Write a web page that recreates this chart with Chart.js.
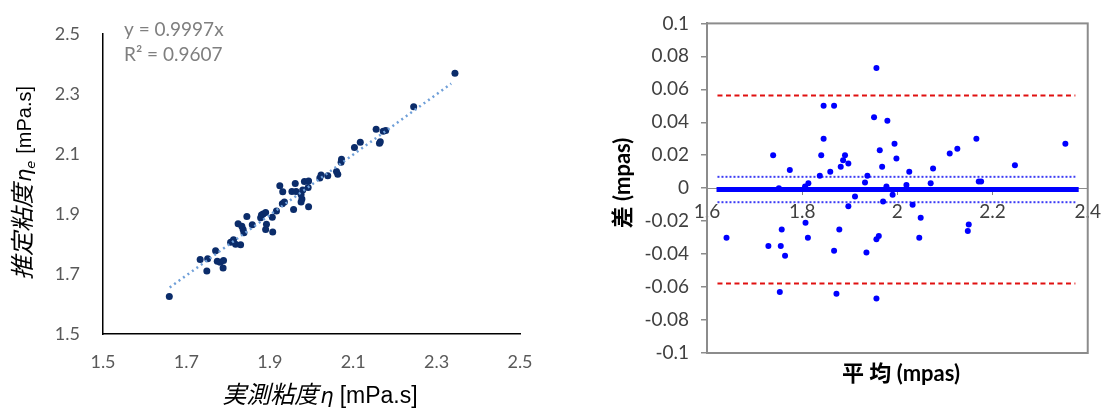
<!DOCTYPE html>
<html lang="ja">
<head>
<meta charset="UTF-8">
<title>粘度 比較</title>
<style>
    body, html {
        margin: 0;
        padding: 0;
        background: #fff;
        overflow: hidden;
    }
    #leftChart { position: absolute; left: 0; top: 0; }
    #rightChart { position: absolute; left: 560px; top: 0; }
</style>
</head>
<body>

<canvas id="leftChart" width="560" height="410"></canvas>
<canvas id="rightChart" width="547" height="410"></canvas>

<script src="https://cdn.jsdelivr.net/npm/chart.js"></script>
<script>
    // left: measured vs estimated viscosity
    const measuredVisc = [1.659, 1.733, 1.749, 1.751, 1.770, 1.774, 1.781, 1.788, 1.789, 1.806,
        1.813, 1.818, 1.830, 1.838, 1.836, 1.833, 1.824, 1.858, 1.845, 1.890,
        1.907, 1.892, 1.878, 1.880, 1.884, 1.890, 1.906, 1.916, 1.930, 1.957,
        1.935, 1.931, 1.924, 1.975, 1.993, 1.977, 1.953, 1.963, 1.975, 1.979,
        1.961, 1.992, 1.983, 1.993, 2.020, 2.023, 2.039, 2.063, 2.060, 2.071,
        2.072, 2.103, 2.117, 2.163, 2.165, 2.155, 2.172, 2.178, 2.245, 2.344];
    const estimatedVisc = [1.625, 1.748, 1.710, 1.751, 1.777, 1.742, 1.739, 1.720, 1.745, 1.806,
        1.814, 1.799, 1.797, 1.837, 1.848, 1.859, 1.867, 1.864, 1.891, 1.848,
        1.840, 1.866, 1.887, 1.896, 1.900, 1.905, 1.889, 1.910, 1.934, 1.915,
        1.940, 1.974, 1.994, 1.940, 1.924, 1.950, 1.975, 1.975, 1.965, 1.980,
        2.001, 1.988, 2.008, 2.010, 2.020, 2.030, 2.027, 2.032, 2.041, 2.072,
        2.082, 2.121, 2.139, 2.135, 2.140, 2.182, 2.175, 2.178, 2.257, 2.369];
    const trendX = [1.66, 2.335];
    const trendY = [1.655, 2.334];
    const leftTicks = [1.5, 1.7, 1.9, 2.1, 2.3, 2.5];
    const leftTickLabels = ['1.5', '1.7', '1.9', '2.1', '2.3', '2.5'];
    const eqLines = ['y = 0.9997x', 'R² = 0.9607'];

    // right: Bland-Altman
    const baMean = [1.641, 1.729, 1.739, 1.751, 1.753, 1.755, 1.757, 1.764, 1.774, 1.806,
        1.807, 1.812, 1.813, 1.837, 1.840, 1.845, 1.845, 1.859, 1.867, 1.867,
        1.872, 1.878, 1.881, 1.886, 1.890, 1.897, 1.897, 1.911, 1.932, 1.935,
        1.937, 1.951, 1.956, 1.956, 1.956, 1.961, 1.963, 1.968, 1.970, 1.977,
        1.979, 1.990, 1.994, 1.998, 2.019, 2.025, 2.032, 2.046, 2.049, 2.070,
        2.075, 2.110, 2.126, 2.148, 2.150, 2.166, 2.171, 2.176, 2.247, 2.353];
    const baDiff = [-0.030, -0.035, 0.020, 0.000, -0.063, -0.035, -0.025, -0.041, 0.011, 0.001,
        -0.021, -0.030, 0.003, 0.0075, 0.020, 0.030, 0.050, 0.010, 0.050, -0.038,
        -0.064, -0.025, 0.013, 0.017, 0.020, 0.015, -0.011, -0.005, 0.0035, -0.039,
        0.0075, 0.043, 0.073, -0.031, -0.067, -0.029, 0.023, 0.013, -0.008, 0.001,
        0.041, -0.004, 0.027, 0.018, 0.002, 0.010, -0.010, -0.030, -0.018, 0.003,
        0.012, 0.021, 0.024, -0.026, -0.022, 0.030, 0.004, 0.004, 0.014, 0.027];
    const meanDiff = -0.0008;
    const loaUpper = 0.0562;
    const loaLower = -0.0578;
    const ciUpper = 0.0069;
    const ciLower = -0.0085;
    const refLineX = [1.622, 2.374];
    const meanLineX = [1.62, 2.381];
    const rightXTicks = [1.6, 1.8, 2, 2.2, 2.4];
    const rightXLabels = ['1.6', '1.8', '2', '2.2', '2.4'];
    const rightYTicks = [-0.1, -0.08, -0.06, -0.04, -0.02, 0, 0.02, 0.04, 0.06, 0.08, 0.1];
    const rightYLabels = ['-0.1', '-0.08', '-0.06', '-0.04', '-0.02', '0', '0.02', '0.04', '0.06', '0.08', '0.1'];

    Chart.defaults.font.family = 'Lato, "Noto Sans CJK JP", sans-serif';
    Chart.defaults.animation = false;

    function pairs(xs, ys) {
        return xs.map((x, i) => ({ x: x, y: ys[i] }));
    }

    function hLine(xs, y) {
        return xs.map(x => ({ x: x, y: y }));
    }

    // draws text pieces with different fonts one after another, centred on (cx, baseline)
    function drawSegments(ctx, segs, cx, cy, rotate) {
        ctx.save();
        ctx.translate(cx, cy);
        if (rotate) ctx.rotate(-Math.PI / 2);
        ctx.textBaseline = 'alphabetic';
        ctx.textAlign = 'left';
        let total = 0;
        segs.forEach(s => {
            ctx.font = s.font;
            s.w = ctx.measureText(s.text).width;
            total += s.w + (s.gap || 0);
        });
        let x = -total / 2;
        segs.forEach(s => {
            ctx.font = s.font;
            ctx.fillStyle = s.color || '#000';
            ctx.fillText(s.text, x, s.dy || 0);
            x += s.w + (s.gap || 0);
        });
        ctx.restore();
    }

    const leftTitles = {
        id: 'leftTitles',
        afterDraw(chart) {
            const ctx = chart.ctx;
            drawSegments(ctx, [
                { text: '推定粘度', font: 'italic 24px "Noto Sans CJK JP"', gap: 2 },
                { text: 'η', font: 'italic 21px "DejaVu Sans"' },
                { text: 'e', font: 'italic 13px "DejaVu Sans"', dy: 4, gap: 7 },
                { text: '[mPa.s]', font: '20px "Liberation Sans"' }
            ], 31, 183, true);
            drawSegments(ctx, [
                { text: '実測粘度', font: 'italic 24px "Noto Sans CJK JP"', gap: 2 },
                { text: 'η', font: 'italic 21px "DejaVu Sans"', gap: 6 },
                { text: '[mPa.s]', font: '23px "Liberation Sans"' }
            ], 320, 403, false);

            ctx.save();
            ctx.font = '19px Lato';
            ctx.fillStyle = '#7f7f7f';
            ctx.textBaseline = 'alphabetic';
            ctx.fillText(eqLines[0], 124, 36);
            ctx.fillText(eqLines[1], 124, 61);
            ctx.restore();
        }
    };

    new Chart(document.getElementById('leftChart'), {
        type: 'scatter',
        data: {
            datasets: [
                {
                    label: 'trend',
                    data: pairs(trendX, trendY),
                    showLine: true,
                    borderColor: '#6f9fd8',
                    borderWidth: 2.5,
                    borderDash: [2, 3.5],
                    pointRadius: 0
                },
                {
                    label: 'data',
                    data: pairs(measuredVisc, estimatedVisc),
                    backgroundColor: '#0b2c6a',
                    borderWidth: 0,
                    pointRadius: 3.5
                }
            ]
        },
        options: {
            responsive: false,
            devicePixelRatio: 1,
            layout: { padding: { left: 0, top: 27, right: 40, bottom: 0 } },
            plugins: { legend: { display: false }, tooltip: { enabled: false } },
            scales: {
                x: {
                    type: 'linear',
                    min: 1.5,
                    max: 2.5,
                    afterBuildTicks: s => { s.ticks = leftTicks.map(v => ({ value: v })); },
                    afterFit: s => { s.height = 76; },
                    grid: { display: false, drawTicks: false },
                    border: { display: true, color: '#000', width: 1.5 },
                    ticks: {
                        callback: (v, i) => leftTickLabels[i],
                        font: { size: 18 },
                        color: '#595959',
                        padding: 17,
                        maxRotation: 0
                    }
                },
                y: {
                    type: 'linear',
                    min: 1.5,
                    max: 2.5,
                    afterBuildTicks: s => { s.ticks = leftTicks.map(v => ({ value: v })); },
                    afterFit: s => { s.width = 103; },
                    grid: { display: false, drawTicks: false },
                    border: { display: true, color: '#000', width: 1.5 },
                    ticks: {
                        callback: (v, i) => leftTickLabels[i],
                        font: { size: 18 },
                        color: '#595959',
                        padding: 23
                    }
                }
            }
        },
        plugins: [leftTitles]
    });

    const rightDecor = {
        id: 'rightDecor',
        beforeDatasetsDraw(chart) {
            const { ctx, chartArea } = chart;
            ctx.save();
            ctx.strokeStyle = '#8c8c8c';
            ctx.lineWidth = 2;
            ctx.strokeRect(chartArea.left, chartArea.top, chartArea.right - chartArea.left, chartArea.bottom - chartArea.top);
            ctx.restore();
        },
        afterDraw(chart) {
            const ctx = chart.ctx;
            // canvas starts at x = 560 on the page
            drawSegments(ctx, [
                { text: '差 (mpas)', font: 'bold 22px Lato, "Noto Sans CJK JP"' }
            ], 70, 183, true);
            drawSegments(ctx, [
                { text: '平 均 (mpas)', font: 'bold 22px Lato, "Noto Sans CJK JP"' }
            ], 341, 381, false);
        }
    };

    new Chart(document.getElementById('rightChart'), {
        type: 'scatter',
        data: {
            datasets: [
                {
                    label: 'diff',
                    data: pairs(baMean, baDiff),
                    backgroundColor: '#0000ff',
                    borderWidth: 0,
                    pointRadius: 3
                },
                {
                    label: 'mean',
                    data: hLine(meanLineX, meanDiff),
                    showLine: true,
                    borderColor: '#0000ff',
                    borderWidth: 5,
                    pointRadius: 0
                },
                {
                    label: 'ci upper',
                    data: hLine(refLineX, ciUpper),
                    showLine: true,
                    borderColor: '#3b3bf5',
                    borderWidth: 2,
                    borderDash: [2, 2],
                    pointRadius: 0
                },
                {
                    label: 'ci lower',
                    data: hLine(refLineX, ciLower),
                    showLine: true,
                    borderColor: '#3b3bf5',
                    borderWidth: 2,
                    borderDash: [2, 2],
                    pointRadius: 0
                },
                {
                    label: 'loa upper',
                    data: hLine(refLineX, loaUpper),
                    showLine: true,
                    borderColor: '#e01010',
                    borderWidth: 2,
                    borderDash: [5, 3.5],
                    pointRadius: 0
                },
                {
                    label: 'loa lower',
                    data: hLine(refLineX, loaLower),
                    showLine: true,
                    borderColor: '#e01010',
                    borderWidth: 2,
                    borderDash: [5, 3.5],
                    pointRadius: 0
                }
            ]
        },
        options: {
            responsive: false,
            devicePixelRatio: 1,
            layout: { padding: { left: 0, top: 15, right: 19, bottom: 57 } },
            plugins: { legend: { display: false }, tooltip: { enabled: false } },
            scales: {
                x: {
                    type: 'linear',
                    position: { y: 0 },
                    min: 1.6,
                    max: 2.4,
                    afterBuildTicks: s => { s.ticks = rightXTicks.map(v => ({ value: v })); },
                    afterFit: s => { s.height = 0; },
                    grid: { drawOnChartArea: false, drawTicks: true, tickLength: 6, color: '#808080', lineWidth: 1 },
                    border: { display: true, color: '#8c8c8c', width: 1 },
                    ticks: {
                        callback: (v, i) => rightXLabels[i],
                        font: { size: 19 },
                        color: '#404040',
                        padding: 6,
                        maxRotation: 0
                    }
                },
                y: {
                    type: 'linear',
                    min: -0.1,
                    max: 0.1,
                    afterBuildTicks: s => { s.ticks = rightYTicks.map(v => ({ value: v })); },
                    afterFit: s => { s.width = 147; },
                    grid: { drawOnChartArea: false, drawTicks: true, tickLength: 6, color: '#8c8c8c', lineWidth: 1.5 },
                    border: { display: true, color: '#8c8c8c', width: 2 },
                    ticks: {
                        callback: (v, i) => rightYLabels[i],
                        font: { size: 19 },
                        color: '#404040',
                        padding: 12
                    }
                }
            }
        },
        plugins: [rightDecor]
    });
</script>
</body>
</html>
